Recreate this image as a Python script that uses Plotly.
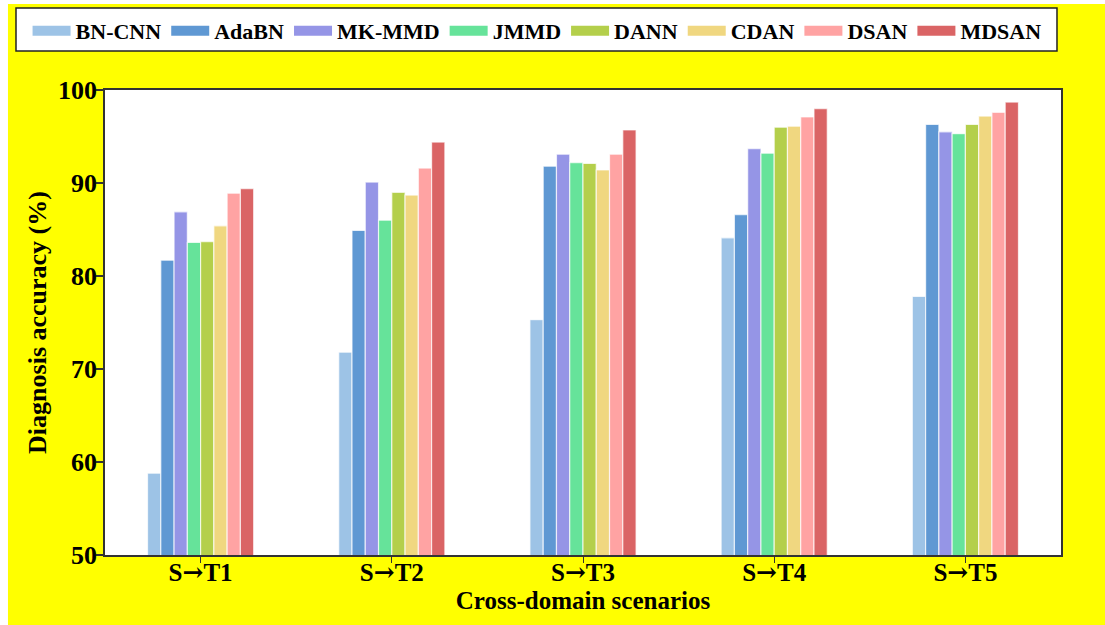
import plotly.graph_objects as go

# Cross-domain scenarios and diagnosis accuracy (%) of each method
scenarios = ["S→T1", "S→T2", "S→T3", "S→T4", "S→T5"]

bn_cnn = [58.8, 71.8, 75.3, 84.1, 77.8]
adabn = [81.7, 84.9, 91.8, 86.6, 96.3]
mk_mmd = [86.9, 90.1, 93.1, 93.7, 95.5]
jmmd = [83.6, 86.0, 92.2, 93.2, 95.3]
dann = [83.7, 89.0, 92.1, 96.0, 96.3]
cdan = [85.4, 88.7, 91.4, 96.1, 97.2]
dsan = [88.9, 91.6, 93.1, 97.1, 97.6]
mdsan = [89.4, 94.4, 95.7, 98.0, 98.7]

methods = ["BN-CNN", "AdaBN", "MK-MMD", "JMMD", "DANN", "CDAN", "DSAN", "MDSAN"]
series = [bn_cnn, adabn, mk_mmd, jmmd, dann, cdan, dsan, mdsan]
colors = ["#9DC3E6", "#5F98D3", "#9595E6", "#66E39A", "#B4CF4B", "#F0D780", "#FFA3A3", "#DA6465"]

y_ticks = [50, 60, 70, 80, 90, 100]

FONT = "Liberation Serif, Times New Roman, serif"
ARROW_FONT = "DejaVu Serif"

# Tick labels with a wider arrow glyph
tick_text = [s.replace("→", f"<span style='font-family:{ARROW_FONT}'>→</span>") for s in scenarios]

fig = go.Figure()

for name, vals, col in zip(methods, series, colors):
    fig.add_trace(go.Bar(
        x=scenarios, y=vals, name=name,
        marker=dict(color=col, line=dict(color="rgba(255,255,255,0.7)", width=1.2)),
        showlegend=False,
    ))

# Legend entries drawn as wide flat swatches
for name, col in zip(methods, colors):
    fig.add_trace(go.Scatter(
        x=[None], y=[None], mode="lines", name=name,
        line=dict(color=col, width=10),
        showlegend=True,
    ))

# White strips at the top and left edges of the page
fig.add_shape(type="rect", xref="paper", yref="paper",
              x0=-0.12, x1=-0.1015, y0=-0.2, y1=1.25,
              fillcolor="white", line=dict(width=0), layer="below")
fig.add_shape(type="rect", xref="paper", yref="paper",
              x0=-0.12, x1=1.1, y0=1.185, y1=1.25,
              fillcolor="white", line=dict(width=0), layer="below")
# Framed white panel behind the legend
fig.add_shape(type="rect", xref="paper", yref="paper",
              x0=-0.0931, x1=0.9958, y0=1.0839, y1=1.1763,
              fillcolor="white", line=dict(color="#222222", width=1.5), layer="above")

fig.update_layout(
    width=1105, height=625,
    margin=dict(l=105, r=44, t=90, b=70, autoexpand=False),
    paper_bgcolor="#FFFF00",
    plot_bgcolor="white",
    barmode="group",
    bargap=0.445,
    bargroupgap=0,
    font=dict(family=FONT, color="black", size=20, weight="bold"),
    legend=dict(
        orientation="h",
        x=-0.081, y=1.172, xanchor="left", yanchor="top",
        bgcolor="rgba(0,0,0,0)",
        borderwidth=0,
        font=dict(family=FONT, size=22, color="black", weight="bold"),
        itemwidth=38,
        tracegroupgap=0,
    ),
    xaxis=dict(
        automargin=False,
        title=dict(text="Cross-domain scenarios", standoff=2,
                   font=dict(family=FONT, size=25, weight="bold")),
        tickfont=dict(family=FONT, size=25, weight="bold"),
        tickvals=scenarios, ticktext=tick_text,
        ticklabelstandoff=-12,
        showline=True, linecolor="#333333", linewidth=1.5, mirror=True,
        ticks="outside", ticklen=6, tickcolor="#333333", tickwidth=1,
        range=[-0.5, 4.5],
    ),
    yaxis=dict(
        automargin=False,
        title=dict(text="Diagnosis accuracy (%)", standoff=4,
                   font=dict(family=FONT, size=26, weight="bold")),
        tickfont=dict(family=FONT, size=26, weight="bold"),
        ticklabelstandoff=-6,
        range=[50, 100], tickvals=y_ticks,
        showline=True, linecolor="#333333", linewidth=1.5, mirror=True,
        ticks="outside", ticklen=7, tickcolor="#333333", tickwidth=1.5,
        showgrid=False, zeroline=False,
    ),
)

fig.write_html("out.html")
